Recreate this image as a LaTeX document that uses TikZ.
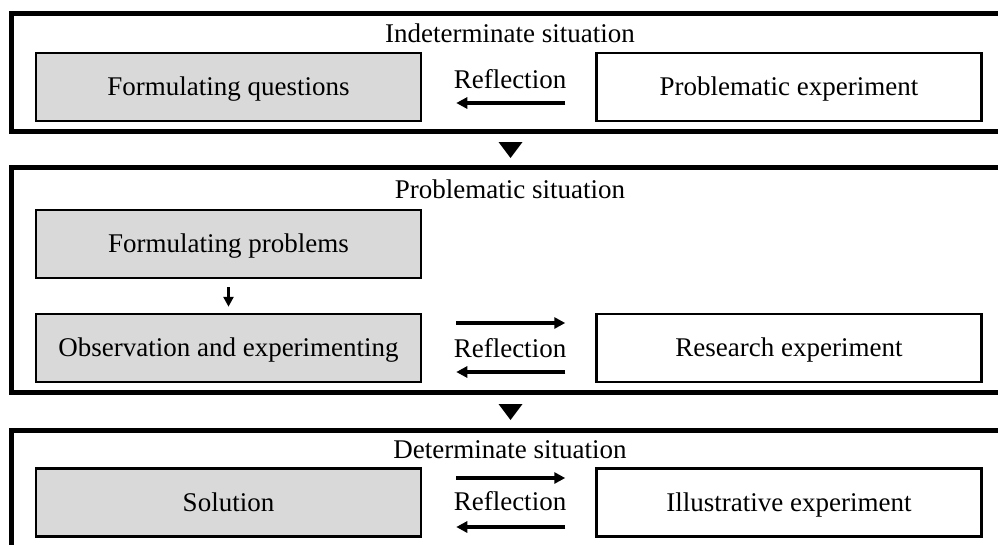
\documentclass[tikz,border=0pt]{standalone}
\usepackage{fontspec}
\setmainfont{Liberation Serif}
\usetikzlibrary{arrows.meta}
\definecolor{boxgray}{HTML}{D9D9D9}
\tikzset{
  frame/.style={line width=5pt},
  graybox/.style={draw, line width=2.5pt, fill=boxgray, minimum width=385pt,
    minimum height=68pt, text height=18pt, text depth=1pt, inner sep=0pt},
  whitebox/.style={graybox, fill=white},
  arr/.style={line width=3.5pt, -{Triangle[length=11pt,width=11pt]}},
  smallarr/.style={line width=3pt, -{Triangle[length=10pt,width=10pt]}},
  lbl/.style={anchor=base, inner sep=0pt},
  stagemark/.style={fill=black}
}
\begin{document}
\begin{tikzpicture}[x=1pt, y=-1pt, font=\fontsize{27}{32}\selectfont]
\useasboundingbox (0,0) rectangle (998,544);
\clip (0,0) rectangle (998,544);

% stage frames (open to the right and below)
\draw[frame] (11.5,13) rectangle (1010,131.5);
\draw[frame] (11.5,167.5) rectangle (1010,392.5);
\draw[frame] (11.5,430) rectangle (1010,580);

% markers between stages
\fill[stagemark] (498.5,142) -- (522.5,142) -- (510.5,158) -- cycle;
\fill[stagemark] (498.5,404) -- (522.5,404) -- (510.5,420) -- cycle;

% stage 1
\node[lbl] (t1) at (510,42) {Indeterminate situation};
\node[graybox] (fq) at (228.5,87) {Formulating questions};
\node[whitebox] (pe) at (789,87) {Problematic experiment};
\node[lbl] (r1) at (510,88) {Reflection};
\draw[arr, shorten <=30pt, shorten >=34pt] ([yshift=-16pt]pe.west) -- ([yshift=-16pt]fq.east);

% stage 2
\node[lbl] (t2) at (510,198) {Problematic situation};
\node[graybox] (fp) at (228.5,244) {Formulating problems};
\node[graybox] (oe) at (228.5,348) {Observation and experimenting};
\node[whitebox] (re) at (789,348) {Research experiment};
\node[lbl] (r2) at (510,357) {Reflection};
\draw[smallarr, shorten <=8pt, shorten >=6pt] (fp.south) -- (oe.north);
\draw[arr, shorten <=34pt, shorten >=30pt] ([yshift=25pt]oe.east) -- ([yshift=25pt]re.west);
\draw[arr, shorten <=30pt, shorten >=34pt] ([yshift=-24pt]re.west) -- ([yshift=-24pt]oe.east);

% stage 3
\node[lbl] (t3) at (510,458) {Determinate situation};
\node[graybox] (so) at (228.5,502.5) {Solution};
\node[whitebox] (ie) at (789,502.5) {Illustrative experiment};
\node[lbl] (r3) at (510,510) {Reflection};
\draw[arr, shorten <=34pt, shorten >=30pt] ([yshift=24.5pt]so.east) -- ([yshift=24.5pt]ie.west);
\draw[arr, shorten <=30pt, shorten >=34pt] ([yshift=-24.5pt]ie.west) -- ([yshift=-24.5pt]so.east);
\end{tikzpicture}
\end{document}
